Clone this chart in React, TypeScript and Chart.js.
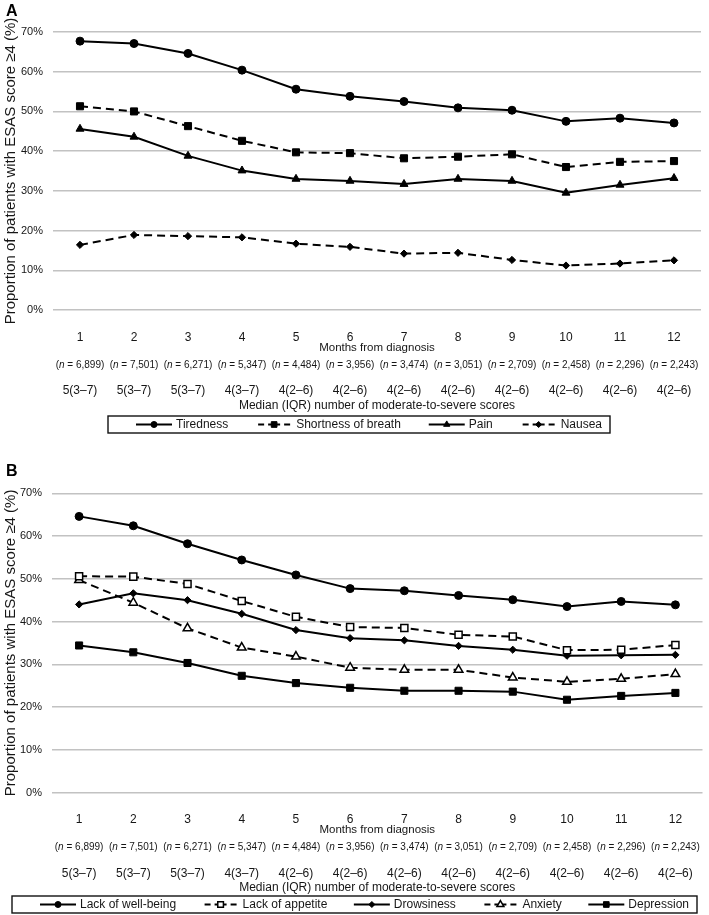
import React, { useEffect, useRef } from 'react';
import { Chart, registerables } from 'chart.js';
import { drawPoint } from 'chart.js/helpers';

Chart.register(...registerables);

// ---------- data ----------
const months = ['1', '2', '3', '4', '5', '6', '7', '8', '9', '10', '11', '12'];
const nLabels = ['6,899', '7,501', '6,271', '5,347', '4,484', '3,956', '3,474', '3,051', '2,709', '2,458', '2,296', '2,243'];
const iqrLabels = ['5(3–7)', '5(3–7)', '5(3–7)', '4(3–7)', '4(2–6)', '4(2–6)', '4(2–6)', '4(2–6)', '4(2–6)', '4(2–6)', '4(2–6)', '4(2–6)'];
const yMin = 0;
const yMax = 70;
const yStep = 10;

const yAxisTitle = 'Proportion of patients with ESAS score ≥4 (%)';
const xAxisTitle = 'Months from diagnosis';
const iqrTitle = 'Median (IQR) number of moderate-to-severe scores';

// Panel A
const tiredness = [67.7, 67.1, 64.6, 60.4, 55.6, 53.8, 52.5, 50.9, 50.3, 47.5, 48.3, 47.1];
const shortnessOfBreath = [51.3, 50.0, 46.3, 42.6, 39.7, 39.5, 38.2, 38.6, 39.2, 36.0, 37.3, 37.5];
const pain = [45.6, 43.6, 38.8, 35.1, 33.0, 32.5, 31.7, 33.0, 32.5, 29.5, 31.5, 33.2];
const nausea = [16.4, 18.9, 18.6, 18.3, 16.7, 15.9, 14.2, 14.4, 12.6, 11.2, 11.7, 12.5];

// Panel B
const lackOfWellBeing = [64.6, 62.4, 58.2, 54.4, 50.9, 47.7, 47.2, 46.1, 45.1, 43.5, 44.7, 43.9];
const lackOfAppetite = [50.6, 50.5, 48.8, 44.8, 41.1, 38.7, 38.5, 36.9, 36.5, 33.3, 33.4, 34.5];
const drowsiness = [44.0, 46.6, 45.0, 41.8, 38.0, 36.1, 35.6, 34.3, 33.4, 32.0, 32.1, 32.2];
const anxiety = [49.7, 44.4, 38.4, 33.9, 31.8, 29.2, 28.7, 28.7, 26.9, 25.9, 26.6, 27.7];
const depression = [34.4, 32.8, 30.3, 27.3, 25.6, 24.5, 23.8, 23.8, 23.6, 21.7, 22.6, 23.3];

// ---------- styles ----------
const FONT = "'Liberation Sans', Arial, Helvetica, sans-serif";
const TEXT = '#161616';

type Style = { dashed: boolean; pointStyle: string; radius: number; open: boolean };
type Series = { label: string; data: number[]; style: Style };

const circle: Style = { dashed: false, pointStyle: 'circle', radius: 4, open: false };
const dashSquare: Style = { dashed: true, pointStyle: 'rect', radius: 5, open: false };
const triangle: Style = { dashed: false, pointStyle: 'triangle', radius: 4.6, open: false };
const dashDiamond: Style = { dashed: true, pointStyle: 'rectRot', radius: 3.6, open: false };
const dashOpenSquare: Style = { dashed: true, pointStyle: 'rect', radius: 5, open: true };
const diamond: Style = { dashed: false, pointStyle: 'rectRot', radius: 3.6, open: false };
const dashOpenTriangle: Style = { dashed: true, pointStyle: 'triangle', radius: 5, open: true };
const square: Style = { dashed: false, pointStyle: 'rect', radius: 5, open: false };

const seriesA: Series[] = [
  { label: 'Tiredness', data: tiredness, style: circle },
  { label: 'Shortness of breath', data: shortnessOfBreath, style: dashSquare },
  { label: 'Pain', data: pain, style: triangle },
  { label: 'Nausea', data: nausea, style: dashDiamond },
];

const seriesB: Series[] = [
  { label: 'Lack of well-being', data: lackOfWellBeing, style: circle },
  { label: 'Lack of appetite', data: lackOfAppetite, style: dashOpenSquare },
  { label: 'Drowsiness', data: drowsiness, style: diamond },
  { label: 'Anxiety', data: anxiety, style: dashOpenTriangle },
  { label: 'Depression', data: depression, style: square },
];

type Geo = {
  letter: string;
  height: number;
  top: number;
  bottom: number;
  left: number;
  right: number;
  letterBase: number;
  numY: number;
  monthsY: number;
  nY: number;
  iqrY: number;
  medianY: number;
  box: { x: number; y: number; w: number; h: number };
  legendLeftPad: number;
  legendRightPad: number;
};

const geoA: Geo = {
  letter: 'A', height: 440, top: 32, bottom: 310, left: 53, right: 701,
  letterBase: 16, numY: 338, monthsY: 347.5, nY: 365, iqrY: 391, medianY: 406,
  box: { x: 108, y: 416, w: 502, h: 17 }, legendLeftPad: 28, legendRightPad: 8,
};

const geoB: Geo = {
  letter: 'B', height: 475, top: 53.3, bottom: 352.5, left: 52, right: 706,
  letterBase: 35.5, numY: 380, monthsY: 389.5, nY: 407.3, iqrY: 433.3, medianY: 448,
  box: { x: 12, y: 456, w: 685, h: 17 }, legendLeftPad: 28, legendRightPad: 8,
};

const DASH = [8, 5];

function drawMarker(ctx: CanvasRenderingContext2D, st: Style, x: number, y: number) {
  ctx.save();
  ctx.setLineDash([]);
  ctx.fillStyle = st.open ? '#ffffff' : '#000000';
  ctx.strokeStyle = '#000000';
  ctx.lineWidth = st.open ? 1.5 : 1;
  drawPoint(ctx, { pointStyle: st.pointStyle as any, rotation: 0, radius: st.radius, borderWidth: ctx.lineWidth } as any, x, y);
  ctx.restore();
}

function makeDecor(g: Geo, series: Series[]) {
  return {
    id: 'panelDecor' + g.letter,
    afterDraw(chart: any) {
      const ctx: CanvasRenderingContext2D = chart.ctx;
      const xs = chart.scales.x;
      const area = chart.chartArea;
      ctx.save();
      ctx.fillStyle = TEXT;

      // panel letter
      ctx.font = `bold 16px ${FONT}`;
      ctx.textAlign = 'left';
      ctx.textBaseline = 'alphabetic';
      ctx.fillStyle = '#000';
      ctx.fillText(g.letter, 6, g.letterBase);
      ctx.fillStyle = TEXT;

      // y axis title
      ctx.save();
      ctx.translate(11, (area.top + area.bottom) / 2);
      ctx.rotate(-Math.PI / 2);
      ctx.font = `15px ${FONT}`;
      ctx.textAlign = 'center';
      ctx.textBaseline = 'middle';
      ctx.fillText(yAxisTitle, 0, 0);
      ctx.restore();

      // month numbers
      ctx.textAlign = 'center';
      ctx.textBaseline = 'middle';
      ctx.font = `12px ${FONT}`;
      months.forEach((m, i) => ctx.fillText(m, xs.getPixelForValue(i), g.numY));

      // x title
      ctx.font = `11.5px ${FONT}`;
      ctx.fillText(xAxisTitle, (area.left + area.right) / 2, g.monthsY);

      // n labels
      const normal = `10px ${FONT}`;
      const italic = `italic 10px ${FONT}`;
      ctx.textAlign = 'left';
      nLabels.forEach((n, i) => {
        const cx = xs.getPixelForValue(i);
        const p1 = '(';
        const p2 = 'n';
        const p3 = ` = ${n})`;
        ctx.font = normal;
        const w1 = ctx.measureText(p1).width;
        const w3 = ctx.measureText(p3).width;
        ctx.font = italic;
        const w2 = ctx.measureText(p2).width;
        let x0 = cx - (w1 + w2 + w3) / 2;
        ctx.font = normal;
        ctx.fillText(p1, x0, g.nY);
        x0 += w1;
        ctx.font = italic;
        ctx.fillText(p2, x0, g.nY);
        x0 += w2;
        ctx.font = normal;
        ctx.fillText(p3, x0, g.nY);
      });

      // IQR labels
      ctx.textAlign = 'center';
      ctx.font = `12px ${FONT}`;
      iqrLabels.forEach((t, i) => ctx.fillText(t, xs.getPixelForValue(i), g.iqrY));
      ctx.fillText(iqrTitle, (area.left + area.right) / 2, g.medianY);

      // legend box
      const b = g.box;
      ctx.strokeStyle = '#111';
      ctx.lineWidth = 1.4;
      ctx.strokeRect(b.x, b.y, b.w, b.h);

      ctx.font = `12px ${FONT}`;
      const sampleW = 36;
      const textGap = 4;
      const widths = series.map((s) => ctx.measureText(s.label).width);
      const content = widths.reduce((a, c) => a + c, 0) + series.length * (sampleW + textGap);
      const start = b.x + g.legendLeftPad;
      const end = b.x + b.w - g.legendRightPad;
      const gap = (end - start - content) / (series.length - 1);
      const cy = b.y + b.h / 2;
      let x = start;
      series.forEach((s, i) => {
        const mid = x + sampleW / 2;
        ctx.save();
        ctx.strokeStyle = '#000';
        ctx.lineWidth = 2;
        if (s.style.dashed) {
          ctx.setLineDash([6, 4]);
          ctx.beginPath();
          ctx.moveTo(mid, cy);
          ctx.lineTo(x, cy);
          ctx.stroke();
          ctx.beginPath();
          ctx.moveTo(mid, cy);
          ctx.lineTo(x + sampleW, cy);
          ctx.stroke();
        } else {
          ctx.beginPath();
          ctx.moveTo(x, cy);
          ctx.lineTo(x + sampleW, cy);
          ctx.stroke();
        }
        ctx.restore();
        drawMarker(ctx, { ...s.style, radius: Math.max(3, s.style.radius - 1) }, mid, cy);
        ctx.fillStyle = TEXT;
        ctx.textAlign = 'left';
        ctx.textBaseline = 'middle';
        ctx.fillText(s.label, x + sampleW + textGap, cy + 0.5);
        x += sampleW + textGap + widths[i] + gap;
      });

      ctx.restore();
    },
  };
}

function Panel({ geo, series }: { geo: Geo; series: Series[] }) {
  const ref = useRef<HTMLCanvasElement | null>(null);
  useEffect(() => {
    if (!ref.current) return;
    const chart = new Chart(ref.current, {
      type: 'line',
      data: {
        labels: months,
        datasets: series.map((s) => ({
          label: s.label,
          data: s.data,
          borderColor: '#000',
          backgroundColor: '#000',
          borderWidth: 2,
          borderDash: s.style.dashed ? DASH : [],
          pointStyle: s.style.pointStyle as any,
          pointRadius: s.style.radius,
          pointHoverRadius: s.style.radius,
          pointBackgroundColor: s.style.open ? '#fff' : '#000',
          pointBorderColor: '#000',
          pointBorderWidth: s.style.open ? 1.5 : 1,
          tension: 0,
          fill: false,
        })),
      },
      options: {
        responsive: false,
        animation: false,
        events: [],
        layout: {
          padding: { top: geo.top, bottom: geo.height - geo.bottom, left: 0, right: 709 - geo.right },
        },
        plugins: {
          legend: { display: false },
          tooltip: { enabled: false },
        },
        scales: {
          x: {
            type: 'category',
            display: false,
            offset: true,
          },
          y: {
            min: yMin,
            max: yMax,
            ticks: {
              stepSize: yStep,
              padding: 10,
              color: TEXT,
              font: { family: FONT, size: 11 },
              callback: (v: any) => `${v}%`,
            },
            grid: { color: '#c2c2c2', lineWidth: 1.4, drawTicks: false },
            border: { display: false },
            afterFit: (scale: any) => {
              scale.width = geo.left;
            },
          },
        },
      },
      plugins: [makeDecor(geo, series)],
    });
    return () => chart.destroy();
  }, [geo, series]);
  return <canvas ref={ref} width={709} height={geo.height} style={{ display: 'block', width: 709, height: geo.height }} />;
}

export default function App() {
  return (
    <div style={{ position: 'absolute', left: 0, top: 0, width: 709, height: 915, background: '#fff' }}>
      <Panel geo={geoA} series={seriesA} />
      <Panel geo={geoB} series={seriesB} />
    </div>
  );
}
